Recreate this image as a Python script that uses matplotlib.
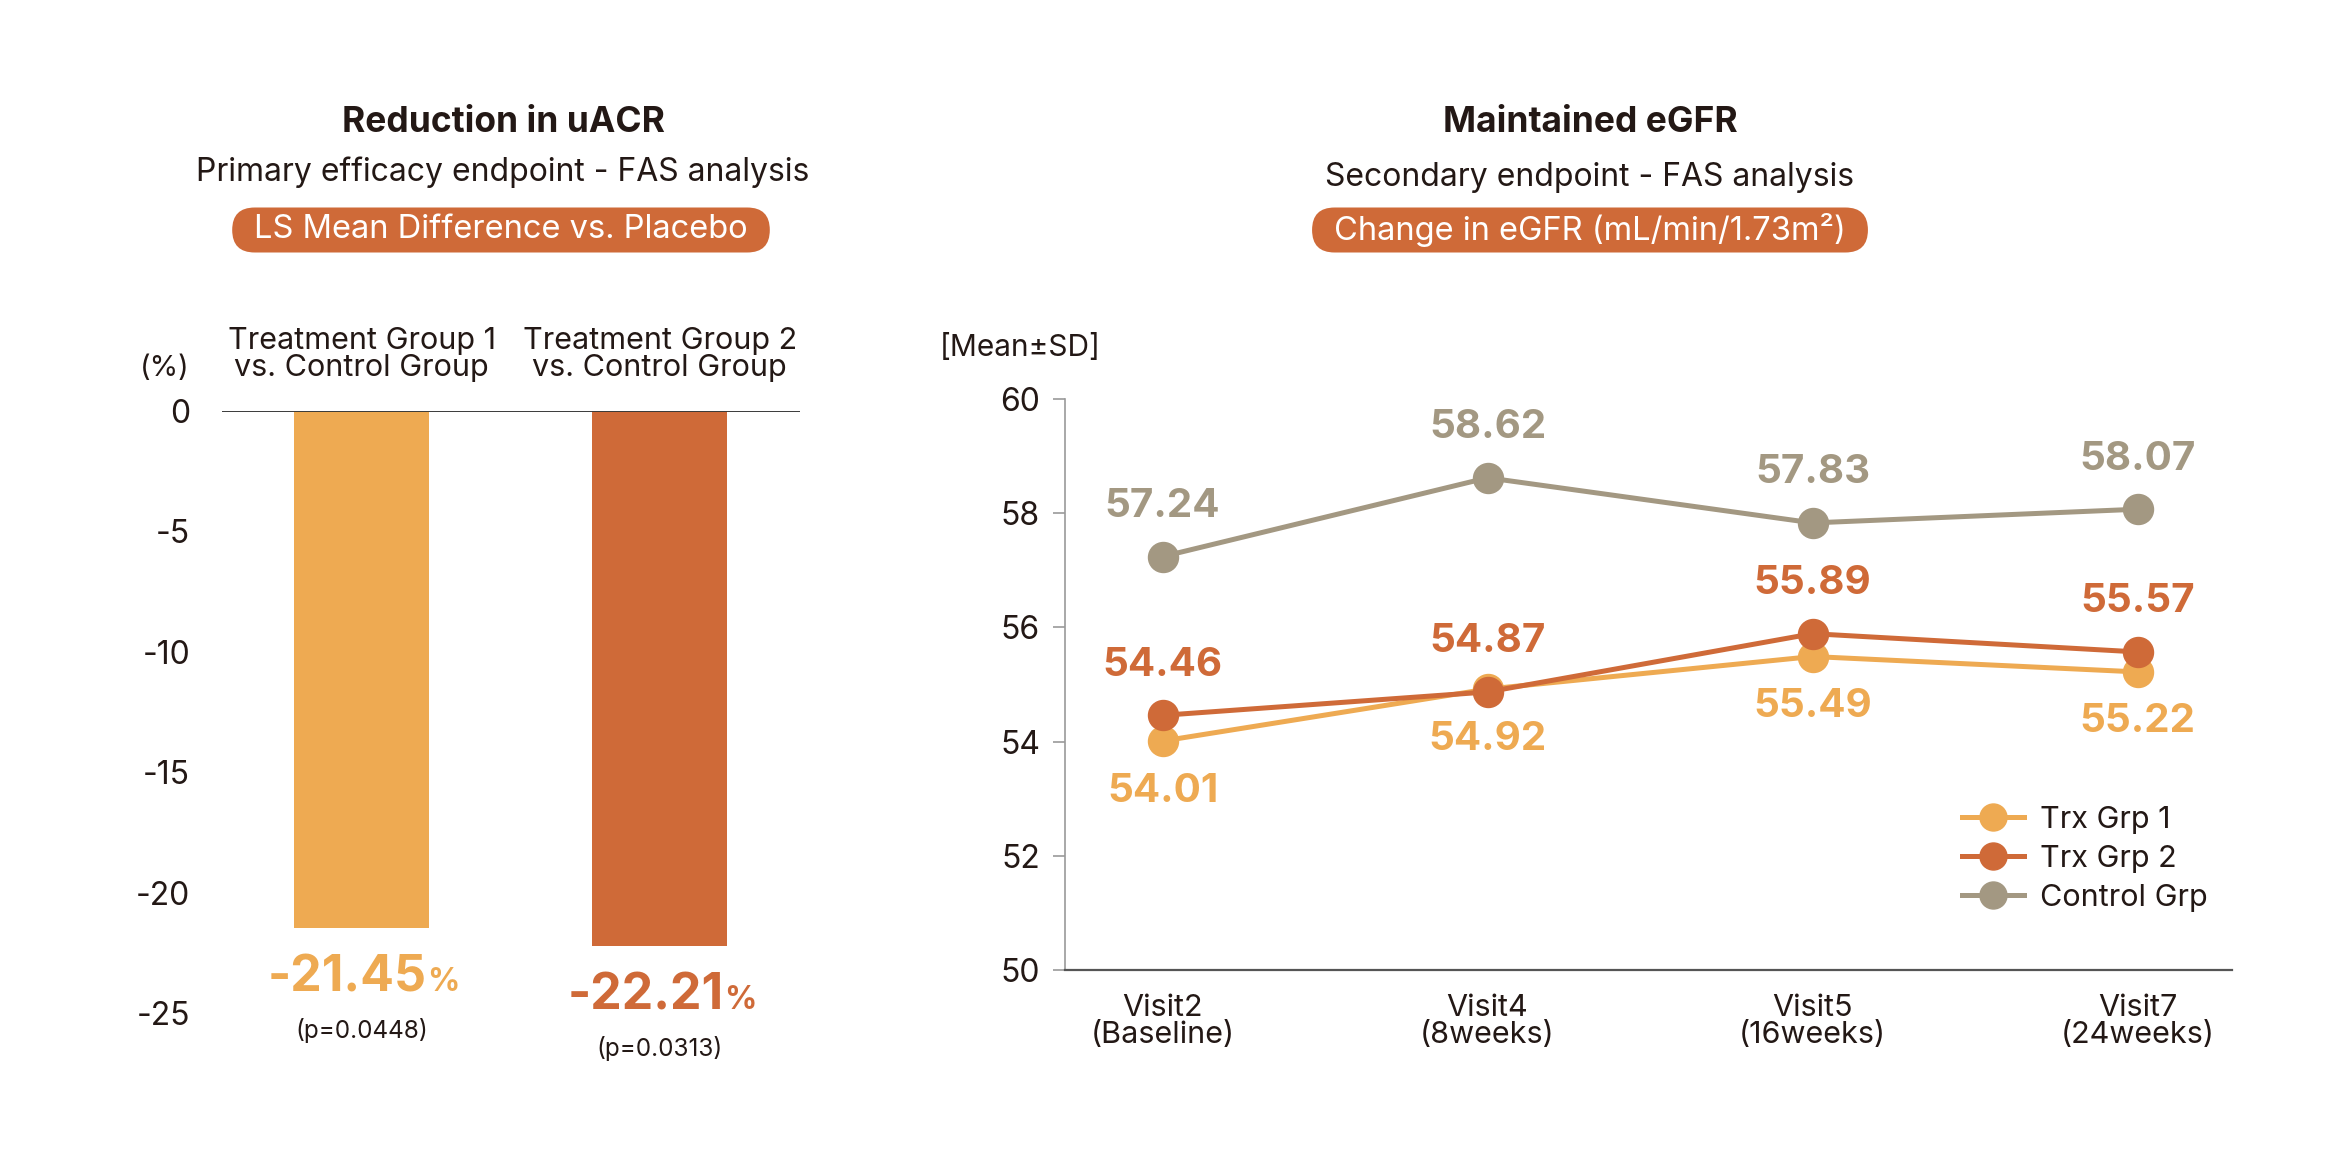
import matplotlib
matplotlib.use("Agg")
import matplotlib.pyplot as plt
from matplotlib.patches import FancyBboxPatch
from matplotlib.transforms import IdentityTransform

# --- Data -------------------------------------------------------------------
bar_labels = ["Treatment Group 1\nvs. Control Group", "Treatment Group 2\nvs. Control Group"]
bar_values = [-21.45, -22.21]
bar_pvalues = ["(p=0.0448)", "(p=0.0313)"]
bar_ticks = [0, -5, -10, -15, -20, -25]

visits = ["Visit2\n(Baseline)", "Visit4\n(8weeks)", "Visit5\n(16weeks)", "Visit7\n(24weeks)"]
trx1 = [54.01, 54.92, 55.49, 55.22]
trx2 = [54.46, 54.87, 55.89, 55.57]
control = [57.24, 58.62, 57.83, 58.07]
line_ticks = [50, 52, 54, 56, 58, 60]

# --- Style ------------------------------------------------------------------
C1 = "#EEAA52"
C2 = "#CF6A38"
CG = "#A39882"
TXT = "#231815"

plt.rcParams["font.family"] = ["Inter", "DejaVu Sans"]
plt.rcParams["axes.unicode_minus"] = False
plt.rcParams["text.color"] = TXT

W, H, DPI = 2339, 1165, 100
fig = plt.figure(figsize=(W / DPI, H / DPI), dpi=DPI)


def px_axes(left, top, right, bottom):
    return fig.add_axes([left / W, 1 - bottom / H, (right - left) / W, (bottom - top) / H])


def ftext(x, y, s, **kw):
    return fig.text(x / W, 1 - y / H, s, **kw)


def pill(x, y, s, fs):
    # rounded orange label box sized to its text
    t = ftext(x, y, s, ha="center", va="center", fontsize=fs, color="white", zorder=5)
    r = fig.canvas.get_renderer()
    bb = t.get_window_extent(r)
    h = 45
    w = bb.width + 44
    cy = H - y
    p = FancyBboxPatch((x - w / 2, cy - h / 2), w, h,
                       boxstyle=f"round,pad=0,rounding_size={h / 2}",
                       transform=IdentityTransform(), fc=C2, ec="none", zorder=4)
    fig.patches.append(p)
    p.set_figure(fig)
    return t


# --- Left: bar chart --------------------------------------------------------
ax1 = px_axes(222, 411, 800, 1013)
xs = list(range(len(bar_values)))
ax1.bar(xs, bar_values, width=0.453, color=[C1, C2], zorder=2)
ax1.set_xlim(-0.468, 1.471)
ax1.set_ylim(-25, 0)
for s in ax1.spines.values():
    s.set_visible(False)
ax1.axhline(0, color="#3a3a3a", lw=1.4, zorder=3)
ax1.set_yticks(bar_ticks)
ax1.set_yticklabels([str(t) for t in bar_ticks])
ax1.tick_params(axis="y", length=0, pad=23, labelsize=23, labelcolor=TXT)
ax1.set_xticks([])

for i, (lab, v, pv, col) in enumerate(zip(bar_labels, bar_values, bar_pvalues, [C1, C2])):
    ax1.annotate(lab, xy=(i, 0), xytext=(0, 41), textcoords="offset points",
                 ha="center", va="center", fontsize=22, linespacing=0.95)
    t = ax1.annotate(f"{v:.2f}", xy=(i, v), xytext=(-10, -36), textcoords="offset points",
                     ha="center", va="center", fontsize=36, fontweight="bold", color=col,
                     annotation_clip=False)
    ax1.annotate("%", xy=(1, 0.06), xycoords=t, ha="left", va="bottom",
                 fontsize=23, fontweight="bold", color=col)
    ax1.annotate(pv, xy=(i, v), xytext=(0, -74), textcoords="offset points",
                 ha="center", va="center", fontsize=17.5, annotation_clip=False)

ftext(190, 368, "(%)", ha="right", va="center", fontsize=21)

# --- Right: line chart ------------------------------------------------------
ax2 = px_axes(1065, 399, 2232, 970)
xv = list(range(len(visits)))
series = [("Trx Grp 1", trx1, C1, -36), ("Trx Grp 2", trx2, C2, 36), ("Control Grp", control, CG, 36)]
for name, vals, col, off in series:
    ax2.plot(xv, vals, color=col, lw=3.6, marker="o", ms=21.6, label=name, zorder=3)
    for x, v in zip(xv, vals):
        ax2.annotate(f"{v:.2f}", xy=(x, v), xytext=(0, off), textcoords="offset points",
                     ha="center", va="center", fontsize=29, fontweight="bold", color=col)

ax2.set_xlim(-0.30, 3.29)
ax2.set_ylim(50, 60)
ax2.spines["top"].set_visible(False)
ax2.spines["right"].set_visible(False)
ax2.spines["left"].set_color("#9a9a9a")
ax2.spines["left"].set_linewidth(1.2)
ax2.spines["bottom"].set_color("#555555")
ax2.spines["bottom"].set_linewidth(1.6)
ax2.set_yticks(line_ticks)
ax2.tick_params(axis="y", length=9, width=1.2, color="#9a9a9a", pad=9, labelsize=23, labelcolor=TXT)
ax2.set_xticks(xv)
ax2.set_xticklabels(visits, linespacing=0.95)
ax2.tick_params(axis="x", length=0, pad=17, labelsize=22, labelcolor=TXT)

leg = ax2.legend(loc="upper left", bbox_to_anchor=(0.769, 0.287), frameon=False, fontsize=22,
                 handlelength=2.0, handletextpad=0.54, labelspacing=0.36, borderpad=0,
                 borderaxespad=0, markerscale=0.9)

ftext(940, 348, "[Mean±SD]", ha="left", va="center", fontsize=21.5)

# --- Titles -----------------------------------------------------------------
ftext(503, 123, "Reduction in uACR", ha="center", va="center", fontsize=25.5, fontweight="bold")
ftext(503, 172, "Primary efficacy endpoint - FAS analysis", ha="center", va="center", fontsize=23)
pill(501, 230, "LS Mean Difference vs. Placebo", 23.5)

ftext(1590, 123, "Maintained eGFR", ha="center", va="center", fontsize=25.5, fontweight="bold")
ftext(1590, 177, "Secondary endpoint - FAS analysis", ha="center", va="center", fontsize=23)
pill(1590, 230, "Change in eGFR (mL/min/1.73m²)", 23.5)

fig.savefig("out.png", dpi=DPI)
